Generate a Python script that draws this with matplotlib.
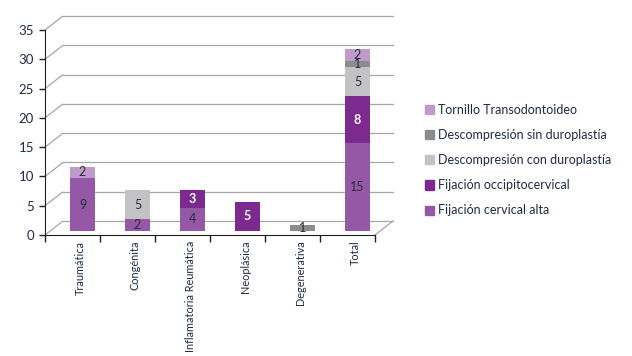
import numpy as np
import matplotlib
matplotlib.use('Agg')
import matplotlib.pyplot as plt
from matplotlib.patches import Patch

plt.rcParams['font.family'] = ['Lato', 'DejaVu Sans']

categories = ['Traumática', 'Congénita', 'Inflamatoria Reumática',
              'Neoplásica', 'Degenerativa', 'Total']
series_names = ['Fijación cervical alta', 'Fijación occipitocervical',
                'Descompresión con duroplastía', 'Descompresión sin duroplastía',
                'Tornillo Transodontoideo']
cervical_alta = [9, 2, 4, 0, 0, 15]
occipitocervical = [0, 0, 3, 5, 0, 8]
con_duroplastia = [0, 5, 0, 0, 0, 5]
sin_duroplastia = [0, 0, 0, 0, 1, 1]
transodontoideo = [2, 0, 0, 0, 0, 2]
y_ticks = [0, 5, 10, 15, 20, 25, 30, 35]

colors = ['#9558a6', '#7d2a90', '#c3c3c5', '#8c8c8e', '#bf9bcb']
label_colors = ['#2b2b3b', 'white', '#2b2b3b', '#2b2b3b', '#2b2b3b']
text_color = '#1f2a44'
grid_color = '#a6a6a6'

W, H = 632, 356
fig = plt.figure(figsize=(W / 100, H / 100), dpi=100)

# pixel geometry of the pseudo-3d frame
px_cat = 55.0          # pixels per category on front plane
px_unit = 205.0 / 35   # pixels per value unit
x0_px, y0_px = 45, 235  # front origin
depth_dx = 18 / px_cat  # back-plane offset in data units
depth_dy = 14 / px_unit
bar_dx = 10 / px_cat    # bars sit inside the box
bar_dy = 4 / px_unit

right_px = 398
top_px = 12
ax = fig.add_axes([x0_px / W, (H - y0_px) / H,
                   (right_px - x0_px) / W, (y0_px - top_px) / H])
ax.set_xlim(0, (right_px - x0_px) / px_cat)
ax.set_ylim(0, (y0_px - top_px) / px_unit)
ncat = len(categories)

# walls: diagonal gridlines on the left wall, horizontals on the back wall
for y in y_ticks:
    ax.plot([0, depth_dx], [y, y + depth_dy], color=grid_color, lw=0.9,
            solid_capstyle='butt', zorder=1)
    ax.plot([depth_dx, ncat + depth_dx], [y + depth_dy, y + depth_dy],
            color=grid_color, lw=0.9, zorder=1)
ax.plot([ncat, ncat + depth_dx], [0, depth_dy], color=grid_color, lw=0.9, zorder=1)

# stacked bars
stack = [cervical_alta, occipitocervical, con_duroplastia, sin_duroplastia, transodontoideo]
xc = np.arange(ncat) + 0.5 + bar_dx
bottom = np.full(ncat, bar_dy)
for vals, name, col, lc in zip(stack, series_names, colors, label_colors):
    vals = np.asarray(vals, dtype=float)
    ax.bar(xc, vals, width=0.46, bottom=bottom, color=col, label=name,
           zorder=3, linewidth=0)
    for xi, b, v in zip(xc, bottom, vals):
        if v > 0:
            ax.text(xi, b + v / 2, '%d' % v, ha='center', va='center',
                    fontsize=9, color=lc, zorder=4,
                    fontweight='bold' if lc == 'white' else 'normal')
    bottom = bottom + vals

# axes
for s in ['top', 'right']:
    ax.spines[s].set_visible(False)
ax.spines['left'].set_bounds(0, 35)
ax.spines['bottom'].set_bounds(0, ncat)
ax.spines['left'].set_color('#202020')
ax.spines['bottom'].set_color('#202020')
ax.set_yticks(y_ticks)
ax.set_yticklabels([str(t) for t in y_ticks], fontsize=9.5, color=text_color)
ax.tick_params(axis='y', length=4, width=1, color='#202020', pad=4)
ax.set_xticks(np.arange(ncat + 1))
ax.set_xticklabels([])
ax.tick_params(axis='x', which='major', length=5, width=1, color='#202020')
ax.set_xticks(xc - 0.04, minor=True)
ax.set_xticklabels(categories, minor=True, rotation=90, fontsize=7.8,
                   color=text_color, va='top', ha='center')
ax.tick_params(axis='x', which='minor', length=0, pad=4)

handles = [Patch(color=c, label=n) for c, n in zip(colors, series_names)][::-1]
fig.legend(handles=handles, loc='upper left', bbox_to_anchor=(420 / W, 1 - 99 / H),
           frameon=False, fontsize=9, handlelength=0.75, handleheight=0.75,
           handletextpad=0.3, labelspacing=1.05, labelcolor=text_color,
           borderaxespad=0)

fig.savefig('out.png', dpi=100, facecolor='white')
